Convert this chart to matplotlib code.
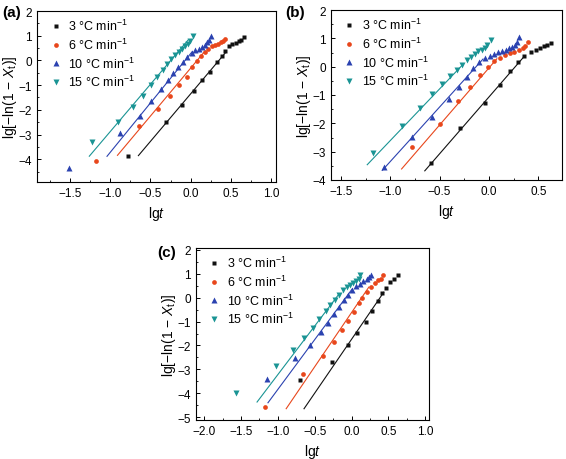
import numpy as np
import matplotlib
matplotlib.use("Agg")
import matplotlib.pyplot as plt
from matplotlib.ticker import MultipleLocator

plt.rcParams['font.family'] = ['Liberation Sans', 'DejaVu Sans']
plt.rcParams['mathtext.fontset'] = 'custom'
plt.rcParams['mathtext.rm'] = 'Liberation Sans'
plt.rcParams['mathtext.it'] = 'Liberation Sans:italic'

labels = ['3 °C min$^{-1}$', '6 °C min$^{-1}$', '10 °C min$^{-1}$', '15 °C min$^{-1}$']
colors = ['#111111', '#e8471c', '#2b42b0', '#1a9494']
markers = ['s', 'o', '^', 'v']

# ---- panel (a)
a_x = [
    [-0.776, -0.306, -0.108, 0.039, 0.142, 0.242, 0.323, 0.385, 0.424, 0.477, 0.518, 0.559, 0.596, 0.629, 0.662],
    [-1.176, -0.637, -0.408, -0.252, -0.14, -0.05, 0.013, 0.075, 0.128, 0.173, 0.218, 0.263, 0.304, 0.341, 0.374, 0.403, 0.424],
    [-1.508, -0.883, -0.633, -0.489, -0.366, -0.283, -0.214, -0.152, -0.091, -0.041, 0.013, 0.057, 0.099, 0.14, 0.173, 0.202, 0.226, 0.251],
    [-1.225, -0.904, -0.72, -0.596, -0.493, -0.419, -0.35, -0.292, -0.239, -0.19, -0.147, -0.107, -0.07, -0.036, -0.008, 0.033],
]
a_y = [
    [-3.85, -2.49, -1.80, -1.22, -0.81, -0.45, -0.08, 0.16, 0.39, 0.566, 0.646, 0.70, 0.767, 0.835, 0.944],
    [-4.09, -2.65, -1.95, -1.43, -0.98, -0.66, -0.28, -0.02, 0.165, 0.34, 0.473, 0.566, 0.622, 0.674, 0.74, 0.795, 0.86],
    [-4.35, -2.92, -2.25, -1.64, -1.17, -0.81, -0.50, -0.28, -0.05, 0.124, 0.30, 0.405, 0.46, 0.54, 0.634, 0.727, 0.835, 0.97],
    [-3.32, -2.49, -1.90, -1.42, -1.01, -0.68, -0.37, -0.14, 0.06, 0.22, 0.35, 0.46, 0.566, 0.674, 0.795, 0.97],
]
a_slope = [3.85, 3.88, 4.0, 3.83]
a_icpt = [-1.35, -0.31, 0.28, 0.95]
a_fit_x0 = [-0.65, -0.91, -1.04, -1.26]
a_fit_x1 = [0.43, 0.16, 0.02, -0.03]

# ---- panel (b)
b_x = [
    [-0.586, -0.296, -0.038, 0.114, 0.214, 0.296, 0.355, 0.424, 0.472, 0.513, 0.554, 0.592, 0.628],
    [-0.775, -0.497, -0.31, -0.188, -0.092, -0.013, 0.056, 0.116, 0.164, 0.21, 0.256, 0.302, 0.344, 0.367, 0.397],
    [-1.068, -0.778, -0.573, -0.404, -0.305, -0.226, -0.161, -0.099, -0.038, 0.013, 0.053, 0.094, 0.131, 0.168, 0.202, 0.233, 0.259, 0.283, 0.303],
    [-1.171, -0.879, -0.698, -0.573, -0.48, -0.39, -0.328, -0.274, -0.223, -0.18, -0.139, -0.106, -0.075, -0.045, -0.015, 0.02],
]
b_y = [
    [-3.41, -2.15, -1.27, -0.64, -0.17, 0.154, 0.37, 0.535, 0.60, 0.655, 0.73, 0.77, 0.85],
    [-2.82, -2.02, -1.21, -0.70, -0.31, -0.015, 0.195, 0.32, 0.40, 0.47, 0.525, 0.575, 0.67, 0.74, 0.855],
    [-3.55, -2.47, -1.79, -1.15, -0.72, -0.36, -0.06, 0.154, 0.295, 0.387, 0.457, 0.507, 0.553, 0.60, 0.648, 0.705, 0.775, 0.88, 1.03],
    [-3.04, -2.10, -1.46, -0.98, -0.61, -0.34, -0.11, 0.07, 0.224, 0.35, 0.457, 0.54, 0.60, 0.67, 0.765, 0.95],
]
b_slope = [4.01, 4.03, 3.85, 3.65]
b_icpt = [-1.07, -0.044, 0.5, 1.04]
b_fit_x0 = [-0.65, -0.885, -1.08, -1.233]
b_fit_x1 = [0.35, 0.08, -0.06, -0.26]

# ---- panel (c)
c_x = [
    [-0.70, -0.268, -0.053, 0.078, 0.19, 0.279, 0.355, 0.413, 0.463, 0.524, 0.58, 0.636],
    [-1.168, -0.66, -0.39, -0.237, -0.125, -0.05, 0.032, 0.095, 0.148, 0.209, 0.268, 0.32, 0.365, 0.40, 0.427],
    [-1.15, -0.764, -0.566, -0.42, -0.315, -0.235, -0.168, -0.099, -0.044, 0.007, 0.06, 0.108, 0.16, 0.21, 0.238, 0.265],
    [-1.567, -1.023, -0.789, -0.643, -0.528, -0.436, -0.35, -0.286, -0.225, -0.17, -0.116, -0.06, -0.02, 0.02, 0.06, 0.095, 0.12],
]
c_y = [
    [-3.45, -2.70, -1.96, -1.47, -1.01, -0.55, -0.15, 0.18, 0.41, 0.65, 0.77, 0.945],
    [-4.59, -3.20, -2.43, -1.84, -1.36, -0.97, -0.59, -0.24, 0.0, 0.245, 0.45, 0.62, 0.73, 0.79, 0.95],
    [-3.40, -2.52, -1.96, -1.45, -1.04, -0.70, -0.38, -0.11, 0.12, 0.33, 0.47, 0.58, 0.69, 0.80, 0.86, 0.97],
    [-3.98, -2.86, -2.18, -1.70, -1.28, -0.91, -0.56, -0.29, -0.08, 0.12, 0.32, 0.45, 0.52, 0.60, 0.70, 0.80, 0.93],
]
c_slope = [4.51, 4.54, 4.17, 4.07]
c_icpt = [-1.74, -0.62, 0.33, 0.85]
c_fit_x0 = [-0.645, -0.887, -1.134, -1.282]
c_fit_x1 = [0.436, 0.234, 0.01, -0.17]

W, H = 566, 460
fig = plt.figure(figsize=(W / 100, H / 100), dpi=100)


def px_axes(left, top, right, bottom):
    return fig.add_axes([left / W, 1 - bottom / H, (right - left) / W, (bottom - top) / H])


def draw_panel(ax, xs, ys, slopes, icpts, x0s, x1s, xlim, ylim):
    for i in range(4):
        ax.plot(xs[i], ys[i], linestyle='none', marker=markers[i], color=colors[i],
                ms=3.4 if markers[i] in ('s', 'o') else 4.2, mec='none', label=labels[i])
        fx = np.array([x0s[i], x1s[i]])
        ax.plot(fx, slopes[i] * fx + icpts[i], color=colors[i], lw=0.8)
    ax.set_xlim(*xlim)
    ax.set_ylim(*ylim)
    ax.xaxis.set_major_locator(MultipleLocator(0.5))
    ax.xaxis.set_minor_locator(MultipleLocator(0.25))
    ax.yaxis.set_major_locator(MultipleLocator(1))
    ax.yaxis.set_minor_locator(MultipleLocator(0.5))
    ax.tick_params(which='both', direction='in', top=False, right=False, labelsize=8.5)
    ax.tick_params(which='major', length=3, width=0.7)
    ax.tick_params(which='minor', length=1.5, width=0.6)
    for s in ax.spines.values():
        s.set_linewidth(0.8)
    ax.set_xlabel(r'lg$\it{t}$', fontsize=10, labelpad=4)
    ax.set_ylabel(r'lg[$-$ln(1 $-$ $X_{\rm t}$)]', fontsize=10, labelpad=0)
    ax.legend(loc='upper left', frameon=False, fontsize=9, handlelength=0.8,
              handletextpad=0.6, labelspacing=0.28, borderaxespad=0.3,
              bbox_to_anchor=(0.02, 1.01))


ax_a = px_axes(37, 12, 276, 183)
draw_panel(ax_a, a_x, a_y, a_slope, a_icpt, a_fit_x0, a_fit_x1, (-1.91, 1.06), (-4.92, 2.0))

ax_b = px_axes(331, 11, 562, 181)
draw_panel(ax_b, b_x, b_y, b_slope, b_icpt, b_fit_x0, b_fit_x1, (-1.6, 0.74), (-4.0, 2.0))

ax_c = px_axes(196, 249, 429, 421)
draw_panel(ax_c, c_x, c_y, c_slope, c_icpt, c_fit_x0, c_fit_x1, (-2.11, 1.05), (-5.12, 2.08))

fig.text(2 / W, 1 - 13 / H, '(a)', fontsize=11, fontweight='bold', va='center')
fig.text(285 / W, 1 - 13 / H, '(b)', fontsize=11, fontweight='bold', va='center')
fig.text(157 / W, 1 - 253 / H, '(c)', fontsize=11, fontweight='bold', va='center')

fig.savefig('out.png', dpi=100)
